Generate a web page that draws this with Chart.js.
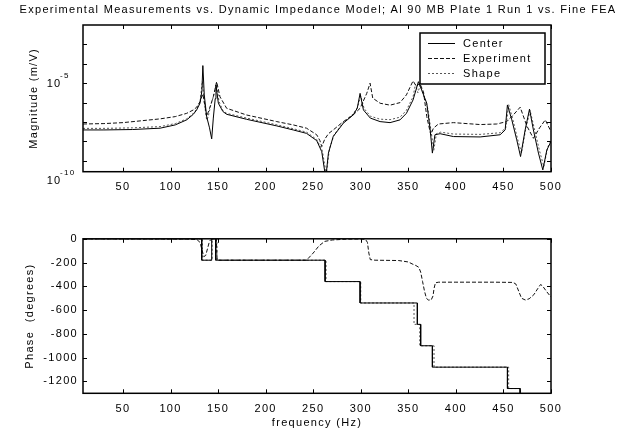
<!DOCTYPE html>
<html><head><meta charset="utf-8">
<script src="https://cdn.jsdelivr.net/npm/chart.js@4"></script>
<style>
html,body{margin:0;padding:0;background:#fff;}
#wrap{position:relative;width:618px;height:435px;overflow:hidden;}
#c1{position:absolute;left:0;top:0;}
#c2{position:absolute;left:0;top:215px;}
</style></head><body>
<div id="wrap"><canvas id="c1" width="618" height="215"></canvas><canvas id="c2" width="618" height="220"></canvas></div>
<script>
// ---------- text ----------
const chartTitle = 'Experimental Measurements vs. Dynamic Impedance Model; Al 90 MB Plate 1 Run 1 vs. Fine FEA';
const seriesNames = ['Center', 'Experiment', 'Shape'];
const magAxisTitle = 'Magnitude (m/V)';
const phaseAxisTitle = 'Phase  (degrees)';
const freqAxisTitle = 'frequency (Hz)';

// ---------- axes ----------
const freqMin = 8, freqMax = 500;
const xTickValues = [50, 100, 150, 200, 250, 300, 350, 400, 450, 500];
const magMin = 2.75e-10, magMax = 1e-2;
const magTickValues = [1e-9, 1e-8, 1e-7, 1e-6, 1e-5, 1e-4, 1e-3];
const magLabelValues = [1e-5, 1e-10];
const magLabelExponents = ['-5', '-10'];
const phaseMin = -1300, phaseMax = 0;
const phaseTickValues = [0, -200, -400, -600, -800, -1000, -1200];

// ---------- magnitude data ----------
const centerFreq = [8,30,60,89,105,117,124,127.5,131,133,134,135.5,138,141,143.3,145,147,147.8,150.3,155,159,180,211.7,229,243,253.7,259,263.2,266,271,281.7,292,296.3,299.3,302.8,310,320.3,330.8,341.3,348,355,360.6,364,369.4,373,375.3,378,383.4,397.4,425.5,446.5,451.8,454.2,458.8,464,468,472.8,477.4,481.5,486.8,491.4,495.6,500];
const centerMag = [3.9e-8,3.9e-8,4.1e-8,4.8e-8,7.1e-8,1.29e-7,2.5e-7,4.2e-7,9.3e-7,4.0e-6,8.1e-5,2.5e-6,1.9e-7,5.0e-8,1.35e-8,1.6e-7,1.6e-6,8.1e-6,9.3e-7,3.5e-7,2.5e-7,1.38e-7,6.3e-8,3.9e-8,2.6e-8,1.1e-8,2.95e-9,1.26e-10,2.5e-9,1.78e-8,8.7e-8,2.3e-7,5.1e-7,3.0e-6,4.2e-7,1.6e-7,1.05e-7,9.3e-8,1.29e-7,2.8e-7,1.38e-6,1.2e-5,4.5e-6,9.3e-7,3.9e-8,2.5e-9,2.2e-8,2.5e-8,1.78e-8,1.7e-8,2.2e-8,3.9e-8,7.6e-7,1.29e-7,1.2e-8,1.66e-9,3.9e-8,4.6e-7,3.9e-8,2.5e-9,3.4e-10,3.6e-9,9.8e-9];

const expFreq = [8,30,50,89,105,117,124,127.5,131,134,136,138,141,145,148.5,152,159,180,211.7,229,243,253.7,257,259,262,266,271,281.7,292,299.3,306.3,309.8,312.6,320.3,330.8,341.3,348,355,358.5,362,365.9,369.4,373.6,376.4,381.6,397.4,425.5,443,453.5,461,467.6,474.6,481.5,488,494,500];
const expMag = [7.9e-8,8.3e-8,9.3e-8,1.45e-7,1.9e-7,2.8e-7,4.2e-7,5.8e-7,1.12e-6,2.8e-6,7.9e-7,1.9e-7,5.0e-7,2.0e-6,1.2e-5,2.0e-6,5.1e-7,2.3e-7,1.05e-7,7.1e-8,4.8e-8,2.2e-8,1.12e-8,5.4e-9,1.26e-8,2.5e-8,3.9e-8,1.05e-7,2.3e-7,5.1e-7,3.0e-6,1.0e-5,1.7e-6,9.3e-7,7.4e-7,1.0e-6,2.5e-6,1.32e-5,6.8e-6,1.0e-5,3.7e-6,1.9e-7,2.2e-8,4.8e-8,7.9e-8,9.3e-8,7.4e-8,7.9e-8,1.05e-7,2.5e-7,5.8e-7,6.3e-8,1.45e-8,5.0e-8,1.29e-7,3.2e-8];

const shapeFreq = [8,30,60,89,105,117,124,127.5,131,133.5,135.5,138,139.5,142,145,148.3,151,155,159,180,211.7,229,243,253.7,259.5,263.8,267,272,282,292,296.5,300,303.5,310,320.3,330.8,341.3,348,355,357.5,360,362.5,366,370.5,374,376.8,379.5,384,397.4,425.5,446.5,452.5,455.5,460,465,469,473.5,478,482.5,488,492.5,496.5,500];
const shapeMag = [4.7e-8,4.7e-8,5.0e-8,5.8e-8,8.3e-8,1.45e-7,2.8e-7,4.6e-7,1.05e-6,1.26e-5,1.0e-6,1.26e-7,1.78e-7,6.3e-7,2.0e-6,1.0e-5,1.12e-6,4.0e-7,2.8e-7,1.6e-7,7.2e-8,4.5e-8,3.0e-8,1.26e-8,3.5e-9,2.0e-10,4.0e-9,2.2e-8,1.0e-7,2.6e-7,5.6e-7,2.2e-6,5.0e-7,2.0e-7,1.4e-7,1.32e-7,1.78e-7,4.0e-7,2.0e-6,8.9e-6,3.2e-6,7.9e-6,2.5e-6,5.0e-7,3.2e-8,3.5e-9,2.5e-8,3.0e-8,2.4e-8,2.3e-8,2.8e-8,5.0e-8,7.9e-7,1.26e-7,1.26e-8,2.5e-9,4.5e-8,4.0e-7,4.5e-8,3.2e-9,5.0e-10,5.0e-9,1.12e-8];

// ---------- phase data ----------
const centerPhFreq = [8,132.8,132.8,143.3,143.3,147.5,147.5,262.5,262.5,299.3,299.3,359.5,359.5,363,363,375.3,375.3,454.2,454.2,467.5,467.5,500];
const centerPhase = [0,0,-180,-180,0,0,-180,-180,-360,-360,-540,-540,-720,-720,-900,-900,-1080,-1080,-1260,-1260,-1440,-1440];

const expPhFreq = [8,120,128,131,133,135,137,139,141,143,147,148.2,149,243,250,256,262,270,285,300,305,307,308.5,310,315,340,350,355,358,361,363,365,367,369,371,374,376,377,378.5,382,400,440,460,463,466,469,473,477,482,486,489,491,495,500];
const expPhase = [0,-2,-8,-30,-90,-150,-140,-80,-20,-3,0,-5,-180,-180,-120,-60,-22,-10,-3,-2,-5,-30,-120,-175,-180,-183,-195,-215,-225,-240,-280,-360,-440,-500,-515,-515,-480,-420,-370,-365,-365,-365,-367,-380,-440,-500,-515,-505,-470,-420,-385,-395,-440,-490];

const shapePhFreq = [8,133.5,133.5,143.8,143.8,148.8,148.8,263.5,263.5,300,300,356,356,362,362,377,377,455.5,455.5,468,468,500];
const shapePhase = [0,0,-180,-180,0,0,-180,-180,-360,-360,-540,-540,-720,-720,-900,-900,-1080,-1080,-1260,-1260,-1440,-1440];

// ---------- styles ----------
const FONT = '"Liberation Sans", Arial, Helvetica, sans-serif';
const LS = '1.3px';
Chart.defaults.font.family = FONT;
Chart.defaults.font.size = 11;
Chart.defaults.color = '#000';

const lineStyles = [
  {borderColor:'#000', borderDash:[]},
  {borderColor:'#111', borderDash:[4,2]},
  {borderColor:'#555', borderDash:[2,2]}
];

function pts(xs, ys){ return xs.map((x,i)=>({x:x, y:ys[i]})); }
function ds(i, data){
  return {label:seriesNames[i], data:data, borderColor:lineStyles[i].borderColor, borderDash:lineStyles[i].borderDash,
    borderWidth:1, pointRadius:0, tension:0, fill:false};
}

const TL = 4;
const axesPlugin = {
  id:'matlabAxes',
  beforeDraw(chart){ chart.ctx.letterSpacing = LS; },
  afterDatasetsDraw(chart, args, opts){
    const {ctx, chartArea:a, scales} = chart;
    const x = scales.x, y = scales.y;
    ctx.save();
    ctx.strokeStyle = '#000'; ctx.lineWidth = 1; ctx.setLineDash([]);
    ctx.beginPath();
    xTickValues.forEach(v=>{
      const px = Math.round(x.getPixelForValue(v)) + 0.5;
      ctx.moveTo(px, a.bottom); ctx.lineTo(px, a.bottom - TL);
      ctx.moveTo(px, a.top); ctx.lineTo(px, a.top + TL);
    });
    opts.yTicks.forEach(v=>{
      const py = Math.round(y.getPixelForValue(v)) + 0.5;
      if (py < a.top || py > a.bottom) return;
      ctx.moveTo(a.left, py); ctx.lineTo(a.left + TL, py);
      ctx.moveTo(a.right, py); ctx.lineTo(a.right - TL, py);
    });
    ctx.stroke();
    ctx.lineWidth = 1.5;
    ctx.strokeRect(a.left, a.top, a.right - a.left, a.bottom - a.top);
    ctx.restore();
  }
};

const topExtras = {
  id:'topExtras',
  afterDraw(chart){
    const {ctx, chartArea:a, scales} = chart;
    const y = scales.y;
    ctx.save();
    ctx.letterSpacing = LS;
    ctx.fillStyle = '#000';
    // title
    ctx.font = '11px ' + FONT; ctx.textAlign = 'center'; ctx.textBaseline = 'middle';
    ctx.fillText(chartTitle, (a.left + a.right) / 2 + 1, 10);
    // log tick labels
    magLabelValues.forEach((v,i)=>{
      const py = y.getPixelForValue(v);
      ctx.font = '11px ' + FONT; ctx.textAlign = 'right'; ctx.textBaseline = 'middle';
      ctx.fillText('10', 61.5, py + 1);
      ctx.font = '8px ' + FONT; ctx.textAlign = 'left';
      ctx.fillText(magLabelExponents[i], 60, py - 7);
    });
    // legend
    const bw = 125, bh = 51;
    const bx = a.right - 6 - bw, by = a.top + 8;
    ctx.fillStyle = '#fff'; ctx.fillRect(bx, by, bw, bh);
    ctx.strokeStyle = '#000'; ctx.lineWidth = 1.5; ctx.setLineDash([]);
    ctx.strokeRect(bx, by, bw, bh);
    chart.data.datasets.forEach((d,i)=>{
      const ly = Math.round(by + 10 + i * 15) + 0.5;
      ctx.strokeStyle = d.borderColor; ctx.lineWidth = 1; ctx.setLineDash(d.borderDash);
      ctx.beginPath(); ctx.moveTo(bx + 8, ly); ctx.lineTo(bx + 35, ly); ctx.stroke();
      ctx.fillStyle = '#000'; ctx.font = '11px ' + FONT; ctx.textAlign = 'left'; ctx.textBaseline = 'middle';
      ctx.fillText(d.label, bx + 43, ly);
    });
    ctx.restore();
  }
};

function xScale(h, withTitle){
  return {
    type:'linear', min:freqMin, max:freqMax, position:'bottom',
    afterBuildTicks: s => { s.ticks = xTickValues.map(v=>({value:v})); },
    afterFit: s => { s.height = h; },
    grid:{display:false, drawTicks:false}, border:{display:false},
    ticks:{padding:9, color:'#000', font:{size:11}, maxRotation:0, autoSkip:false, callback: v => String(v)},
    title:{display:withTitle, text:freqAxisTitle, color:'#000', font:{size:11}, padding:{top:0, bottom:5}}
  };
}

new Chart(document.getElementById('c1'), {
  type:'line',
  data:{datasets:[ds(0, pts(centerFreq, centerMag)), ds(1, pts(expFreq, expMag)), ds(2, pts(shapeFreq, shapeMag))]},
  options:{
    responsive:false, animation:false, events:[],
    layout:{padding:{left:0, right:67, top:25, bottom:0}},
    plugins:{legend:{display:false}, tooltip:{enabled:false}, title:{display:false}, matlabAxes:{yTicks:magTickValues}},
    scales:{
      x: xScale(43.3, false),
      y: {type:'logarithmic', min:magMin, max:magMax, position:'left',
          afterFit: s => { s.width = 83; },
          ticks:{display:false}, grid:{display:false, drawTicks:false}, border:{display:false},
          title:{display:true, text:magAxisTitle, color:'#000', font:{size:11}, padding:{top:27, bottom:0}}}
    }
  },
  plugins:[axesPlugin, topExtras]
});

new Chart(document.getElementById('c2'), {
  type:'line',
  data:{datasets:[ds(0, pts(centerPhFreq, centerPhase)), ds(1, pts(expPhFreq, expPhase)), ds(2, pts(shapePhFreq, shapePhase))]},
  options:{
    responsive:false, animation:false, events:[],
    layout:{padding:{left:0, right:67, top:23.8, bottom:0}},
    plugins:{legend:{display:false}, tooltip:{enabled:false}, title:{display:false}, matlabAxes:{yTicks:phaseTickValues}},
    scales:{
      x: xScale(41.7, true),
      y: {type:'linear', min:phaseMin, max:phaseMax, position:'left',
          afterBuildTicks: s => { s.ticks = phaseTickValues.map(v=>({value:v})); },
          afterFit: s => { s.width = 83; },
          ticks:{padding:5, color:'#000', font:{size:11}, callback: v => String(v)},
          grid:{display:false, drawTicks:false}, border:{display:false},
          title:{display:true, text:phaseAxisTitle, color:'#000', font:{size:11}, padding:{top:23, bottom:0}}}
    }
  },
  plugins:[axesPlugin]
});
</script>
</body></html>
